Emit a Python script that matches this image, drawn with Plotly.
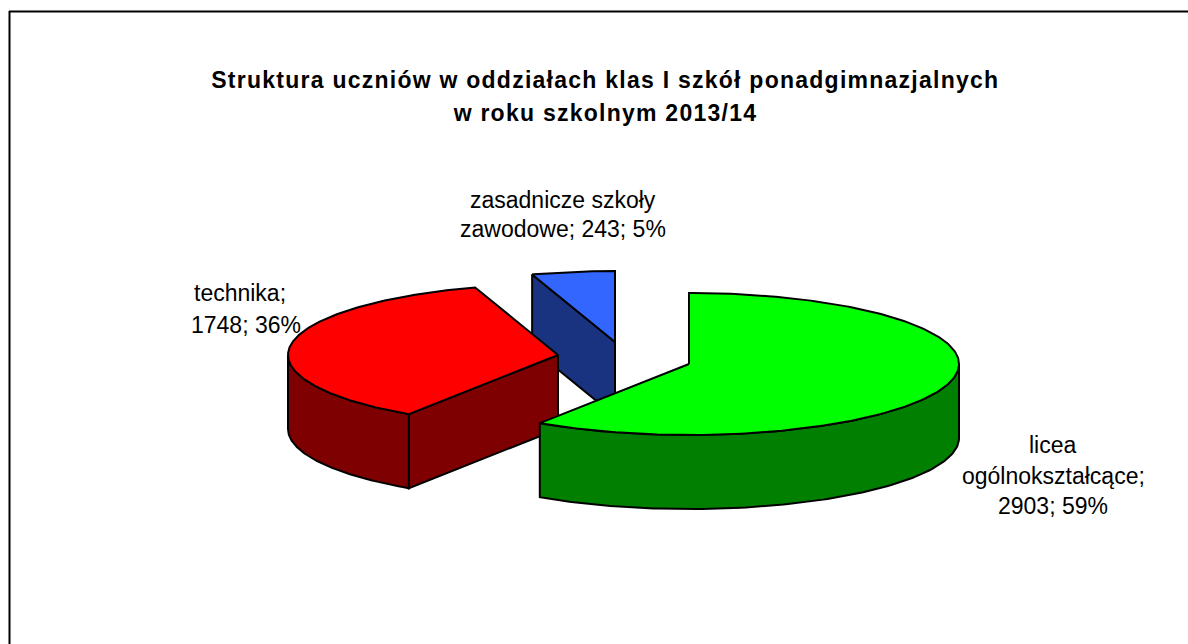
import numpy as np
import plotly.graph_objects as go

categories = ["licea ogólnokształcące", "technika", "zasadnicze szkoły zawodowe"]
values = [2903, 1748, 243]
top_colors = ["#00FF00", "#FF0000", "#3366FF"]
wall_colors = ["#007F00", "#7F0000", "#1A3380"]
# pixel centre of every exploded slice's top face
centers = [(689, 364), (558, 355), (615, 342)]
RX, RY, DEPTH = 270, 71, 74
title_lines = ["Struktura uczniów w oddziałach klas I szkół ponadgimnazjalnych",
               "w roku szkolnym 2013/14"]
total = sum(values)
pcts = [round(100 * v / total) for v in values]
label_lines = [
    ["licea", "ogólnokształcące;", f"{values[0]}; {pcts[0]}%"],
    ["technika;", f"{values[1]}; {pcts[1]}%"],
    ["zasadnicze szkoły", f"zawodowe; {values[2]}; {pcts[2]}%"],
]
label_pos = [[(1053, 445), (1053, 476), (1053, 506)],
             [(240, 293), (246, 325)],
             [(563, 200), (563, 229)]]

fig = go.Figure()


def pts(c, a, dz=0.0):
    a = np.radians(np.asarray(a, dtype=float))
    return c[0] + RX * np.sin(a), c[1] - RY * np.cos(a) + dz


def poly(xs, ys, color):
    fig.add_trace(go.Scatter(x=list(xs), y=list(ys), mode="lines", fill="toself",
                             fillcolor=color, line=dict(color="black", width=2),
                             hoverinfo="skip", showlegend=False))


edges = np.concatenate([[0], np.cumsum(values) / total * 360])
# painter's order: back slice first
for i in [2, 1, 0]:
    c, a0, a1 = centers[i], edges[i], edges[i + 1]
    # cut face at the slice's start angle
    ex, ey = pts(c, a0)
    poly([c[0], ex, ex, c[0], c[0]], [c[1], ey, ey + DEPTH, c[1] + DEPTH, c[1]], wall_colors[i])
    # outer rounded wall, front half only
    lo, hi = max(a0, 90), min(a1, 270)
    if lo < hi:
        arc = np.linspace(lo, hi, 120)
        tx, ty = pts(c, arc)
        bx, by = pts(c, arc[::-1], DEPTH)
        poly(np.r_[tx, bx, tx[0]], np.r_[ty, by, ty[0]], wall_colors[i])
    # top face
    arc = np.linspace(a0, a1, 240)
    tx, ty = pts(c, arc)
    poly(np.r_[c[0], tx, c[0]], np.r_[c[1], ty, c[1]], top_colors[i])

ann = []
for k, (line, y) in enumerate(zip(title_lines, [80, 113])):
    ann.append(dict(x=605, y=y, text=line, showarrow=False, xanchor="center", yanchor="middle",
                    font=dict(family="Liberation Sans", size=23, color="black", weight="bold")))
for lines, poss in zip(label_lines, label_pos):
    for line, (x, y) in zip(lines, poss):
        ann.append(dict(x=x, y=y, text=line, showarrow=False, xanchor="center", yanchor="middle",
                        font=dict(family="Liberation Sans", size=23, color="black")))

fig.update_layout(
    width=1188, height=644, margin=dict(l=0, r=0, t=0, b=0),
    paper_bgcolor="white", plot_bgcolor="white", showlegend=False,
    xaxis=dict(range=[0, 1188], visible=False, fixedrange=True),
    yaxis=dict(range=[644, 0], visible=False, fixedrange=True),
    annotations=ann,
    shapes=[dict(type="line", xref="x", yref="y", x0=9, y0=11.5, x1=1188, y1=11.5,
                 line=dict(color="black", width=2)),
            dict(type="line", xref="x", yref="y", x0=9.5, y0=11, x1=9.5, y1=644,
                 line=dict(color="black", width=2))],
)
css = ('var s=document.createElement("style");'
       's.textContent=\'html,body{margin:0;padding:0;overflow:hidden}'
       'text[data-unformatted^="Struktura"],text[data-unformatted^="w roku"]{letter-spacing:1.25px}\';'
       'document.head.appendChild(s);')
fig.write_html("out.html", post_script=css, config={"displayModeBar": False})
